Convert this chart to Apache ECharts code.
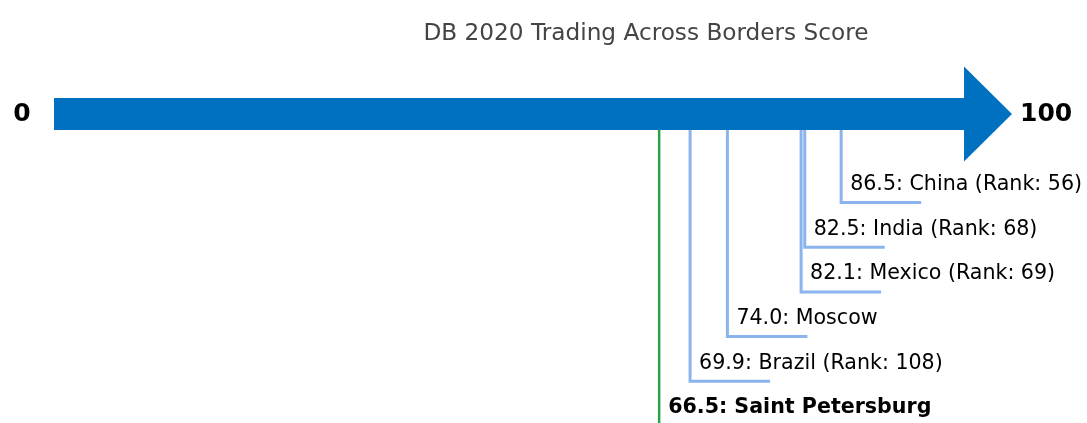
<!DOCTYPE html>
<html>
<head>
<meta charset="utf-8">
<script src="https://cdn.jsdelivr.net/npm/echarts@6/dist/echarts.min.js"></script>
<style>
  html, body { margin: 0; padding: 0; background: #ffffff; }
  #chart { width: 1087px; height: 423px; }
</style>
</head>
<body>
<div id="chart"></div>
<script>
// Trading Across Borders scores (Doing Business 2020)
const places = ['China', 'India', 'Mexico', 'Moscow', 'Brazil', 'Saint Petersburg'];
const scores = [86.5, 82.5, 82.1, 74.0, 69.9, 66.5];
const ranks = [56, 68, 69, null, 108, null];
const highlightPlace = 'Saint Petersburg';
const scaleEnds = [0, 100];
const titleText = 'DB 2020 Trading Across Borders Score';

// Layout (pixel rows of the vertical axis, which runs 0..423 top to bottom)
const FONT = '"DejaVu Sans", "Noto Sans", sans-serif';
const SHAFT_Y = 114, SHAFT_HALF = 16;
const HEAD_HALF = 47.5, HEAD_LEN = 48;
const FIRST_ROW = 202.5, ROW_GAP = 44.7, LEG_LEN = 80, TEXT_RISE = 18;
const BLUE = '#0070c0', LEADER = '#8ab4ee', GREEN = '#26a445';

const chart = echarts.init(document.getElementById('chart'), null, { renderer: 'canvas' });

const arrowSeries = {
  type: 'custom',
  silent: true,
  data: [scaleEnds],
  renderItem(params, api) {
    const a = api.coord([api.value(0), SHAFT_Y]);
    const b = api.coord([api.value(1), SHAFT_Y]);
    const y = a[1];
    return {
      type: 'group',
      children: [
        {
          type: 'polygon',
          shape: {
            points: [
              [a[0], y - SHAFT_HALF], [b[0], y - SHAFT_HALF], [b[0], y - HEAD_HALF],
              [b[0] + HEAD_LEN, y], [b[0], y + HEAD_HALF], [b[0], y + SHAFT_HALF],
              [a[0], y + SHAFT_HALF]
            ]
          },
          style: { fill: BLUE }
        },
        {
          type: 'text',
          style: {
            text: String(api.value(0)), x: a[0] - 32, y: y,
            align: 'center', verticalAlign: 'middle',
            font: 'bold 25px ' + FONT, fill: '#000'
          }
        },
        {
          type: 'text',
          style: {
            text: String(api.value(1)), x: b[0] + HEAD_LEN + 8, y: y,
            align: 'left', verticalAlign: 'middle',
            font: 'bold 25px ' + FONT, fill: '#000'
          }
        }
      ]
    };
  }
};

const leaderSeries = {
  type: 'custom',
  silent: true,
  data: scores.map((s, i) => [s, i]),
  renderItem(params, api) {
    const i = api.value(1);
    const name = places[i];
    const score = api.value(0);
    const p = api.coord([score, SHAFT_Y + SHAFT_HALF]);
    const x = p[0], top = p[1];
    const rowY = api.coord([score, FIRST_ROW + i * ROW_GAP])[1];
    const isHi = name === highlightPlace;
    const label = score.toFixed(1) + ': ' + name + (ranks[i] != null ? ' (Rank: ' + ranks[i] + ')' : '');
    const line = isHi
      ? { type: 'polyline', shape: { points: [[x, top], [x, 423]] }, style: { stroke: GREEN, lineWidth: 2.5, fill: null } }
      : { type: 'polyline', shape: { points: [[x, top], [x, rowY], [x + LEG_LEN, rowY]] }, style: { stroke: LEADER, lineWidth: 3, fill: null } };
    return {
      type: 'group',
      children: [
        line,
        {
          type: 'text',
          style: {
            text: label, x: x + 9, y: rowY - TEXT_RISE,
            align: 'left', verticalAlign: 'middle',
            font: (isHi ? 'bold ' : '') + '20.6px ' + FONT, fill: '#000'
          }
        }
      ]
    };
  }
};

chart.setOption({
  animation: false,
  backgroundColor: '#ffffff',
  title: {
    text: titleText,
    left: 641, top: 17,
    textAlign: 'center',
    textStyle: { fontFamily: FONT, fontSize: 23.2, fontWeight: 'normal', color: '#444444' }
  },
  grid: { left: 54, right: 123, top: 0, bottom: 0 },
  xAxis: { type: 'value', min: scaleEnds[0], max: scaleEnds[1], show: false },
  yAxis: { type: 'value', min: 0, max: 423, inverse: true, show: false },
  series: [arrowSeries, leaderSeries]
});
</script>
</body>
</html>
